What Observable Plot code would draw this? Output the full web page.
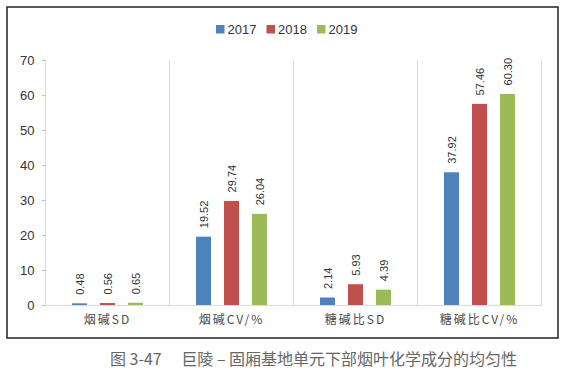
<!DOCTYPE html>
<html>
<head>
<meta charset="utf-8">
<script src="https://cdn.jsdelivr.net/npm/d3@7"></script>
<script src="https://cdn.jsdelivr.net/npm/@observablehq/plot@0.6"></script>
<style>
  html, body { margin: 0; padding: 0; background: #fff; }
  #chart { width: 570px; height: 374px; }
</style>
</head>
<body>
<div id="chart"></div>
<script>
const categories = ["烟碱SD", "烟碱CV/%", "糖碱比SD", "糖碱比CV/%"];
const years = ["2017", "2018", "2019"];
const v2017 = [0.48, 19.52, 2.14, 37.92];
const v2018 = [0.56, 29.74, 5.93, 57.46];
const v2019 = [0.65, 26.04, 4.39, 60.30];
const yTicks = [0, 10, 20, 30, 40, 50, 60, 70];
const colors = ["#4F81BD", "#C0504D", "#9BBB59"];
const caption = "图 3-47\u2003 巨陵 – 固厢基地单元下部烟叶化学成分的均匀性";

const series = [v2017, v2018, v2019];
const data = categories.flatMap((c, i) =>
  years.map((y, j) => ({category: c, year: y, value: series[j][i]}))
);
const fmt = d3.format(".2f");

const chart = Plot.plot({
  width: 570,
  height: 374,
  marginTop: 60,
  marginBottom: 69,
  marginLeft: 43,
  marginRight: 28,
  style: {fontFamily: "'Liberation Sans', Arial, sans-serif", background: "white", color: "#333"},
  fx: {domain: categories, padding: 0, label: null, axis: null},
  x: {domain: years, paddingInner: 0.47, paddingOuter: 0.946, axis: null},
  y: {domain: [0, 70], axis: null},
  color: {domain: years, range: colors},
  marks: [
    Plot.frame({anchor: "left", stroke: "#d9d9d9"}),
    Plot.frame({anchor: "right", stroke: "#d9d9d9"}),
    Plot.axisY({ticks: yTicks, tickSize: 3, tickPadding: 8, fontSize: 13, stroke: "#bfbfbf", fill: "#333", label: null}),
    Plot.axisFx({anchor: "bottom", tickSize: 0, tickPadding: 10, fontSize: 12, fill: "#4a4a4a",
      fontFamily: "'Noto Sans CJK SC', sans-serif", label: null}),
    Plot.barY(data, {fx: "category", x: "year", y: "value", fill: "year"}),
    Plot.ruleY([0], {stroke: "#d9d9d9"}),
    Plot.text(data, {fx: "category", x: "year", y: "value", text: d => fmt(d.value),
      rotate: -90, textAnchor: "start", dy: -9, fontSize: 11, fill: "#333"})
  ]
});

const svg = d3.select(chart);
svg.selectAll('[aria-label="fx-axis tick label"] text').style("letter-spacing", "2px");

// outer border
svg.insert("rect", ":first-child")
  .attr("x", 7).attr("y", 7).attr("width", 551).attr("height", 331)
  .attr("fill", "white").attr("stroke", "#222").attr("stroke-width", 1.5);

// legend
const lg = svg.append("g")
  .attr("font-family", "'Liberation Sans', Arial, sans-serif")
  .attr("font-size", 13)
  .attr("text-anchor", "start");
years.forEach((y, i) => {
  const x0 = 216 + i * 50.5;
  lg.append("rect").attr("x", x0).attr("y", 25).attr("width", 8.5).attr("height", 8.5).attr("fill", colors[i]);
  lg.append("text").attr("x", x0 + 11.5).attr("y", 34).attr("fill", "#333").attr("text-anchor", "start").text(y);
});

// caption
svg.append("text")
  .attr("x", 313.5).attr("y", 365)
  .attr("text-anchor", "middle")
  .attr("font-family", "'Noto Sans CJK SC', sans-serif")
  .attr("font-size", 16)
  .attr("fill", "#666")
  .style("white-space", "pre")
  .text(caption);

document.getElementById("chart").appendChild(chart);
</script>
</body>
</html>
